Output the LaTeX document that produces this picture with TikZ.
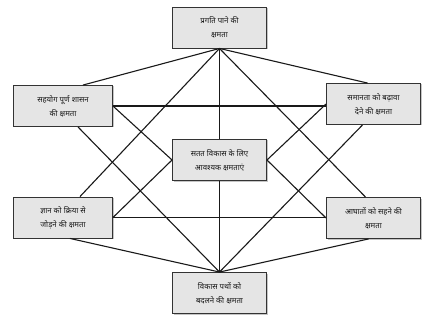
\documentclass[tikz,border=0pt]{standalone}
\usepackage{fontspec}
\newfontfamily\hindi[Script=Devanagari]{Noto Sans}
\usetikzlibrary{shadows}

\begin{document}
\begin{tikzpicture}[x=1pt, y=-1pt,
    box/.style = {draw=black!80, fill=black!10, line width=0.9pt,
        minimum width=94pt, minimum height=41pt, align=center,
        font=\hindi\fontsize{7.8}{14}\selectfont, text=black!90,
        drop shadow={shadow xshift=1pt, shadow yshift=-1pt, fill=black!45}},
    link/.style = {draw=black!90, line width=1.1pt}]
    \useasboundingbox (0,0) rectangle (422,323);

    \node[box] (T) at (219.5,27.5) {प्रगति पाने की\\क्षमता};
    \node[box, minimum width=99pt] (LU) at (63,106) {सहयोग पूर्ण शासन\\की क्षमता};
    \node[box] (RU) at (373.5,104) {समानता को बढ़ावा\\देने की क्षमता};
    \node[box] (C) at (219.5,160) {सतत विकास के लिए\\आवश्यक क्षमताएं};
    \node[box, minimum width=99pt] (LL) at (63,217.5) {ज्ञान को क्रिया से\\जोड़ने की क्षमता};
    \node[box] (RL) at (373.5,218) {आघातों को सहने की\\क्षमता};
    \node[box] (B) at (219.5,293) {विकास पथों को\\बदलने की क्षमता};

    % verticals and horizontals
    \draw[link] (T.south) -- (C.north);
    \draw[link] (C.south) -- (B.north);
    \draw[link] (LU.east) -- (LU.east -| RU.west);
    \draw[link] (LL.east) -- (LL.east -| RL.west);

    % into the centre box
    \foreach \n in {LU, LL} \draw[link] (\n.east) -- (C.west);
    \foreach \n in {RU, RL} \draw[link] (\n.west) -- (C.east);

    % from the top box
    \draw[link] (T.south) -- ([xshift=20pt]LU.north);
    \draw[link] (T.south) -- ([xshift=-6pt]RU.north);
    \draw[link] (T.south) -- ([xshift=17pt]LL.north);
    \draw[link] (T.south) -- ([xshift=-8pt]RL.north);

    % from the bottom box
    \draw[link] (B.north) -- ([xshift=15pt]LU.south);
    \draw[link] (B.north) -- ([xshift=-11pt]RU.south);
    \draw[link] (B.north) -- ([xshift=7pt]LL.south);
    \draw[link] (B.north) -- ([xshift=-5pt]RL.south);
\end{tikzpicture}
\end{document}
